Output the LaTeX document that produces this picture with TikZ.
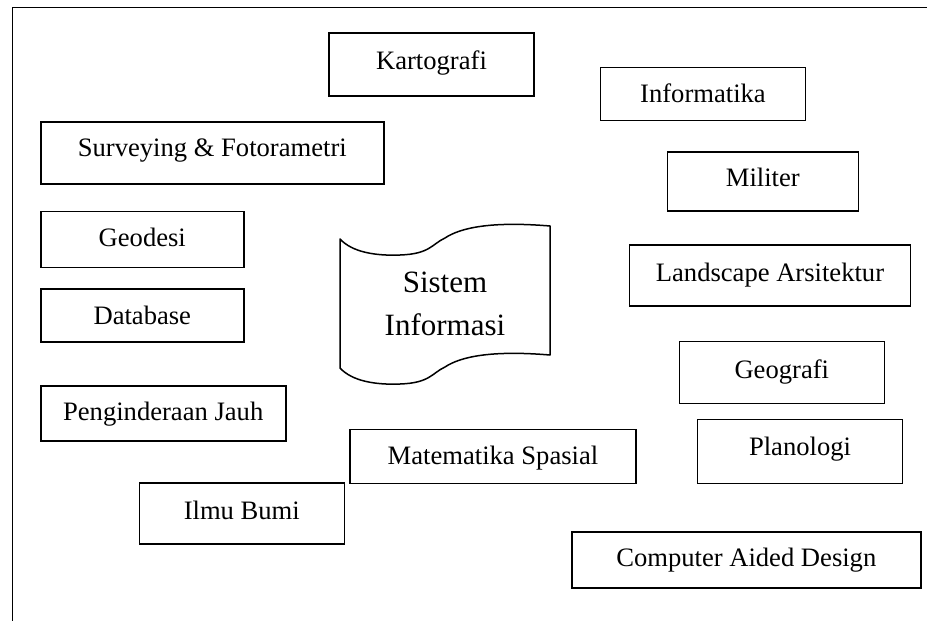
\documentclass[tikz,border=0pt]{standalone}
\usepackage{fontspec}
\setmainfont{Liberation Serif}
\tikzset{
  field/.style={draw=black, line width=0.8pt, rectangle, inner sep=0pt,
    font=\fontsize{13.3pt}{16pt}\selectfont, text height=8.8pt, text depth=1.5pt},
  tape/.style={draw=black, line width=0.75pt, line join=round},
  tapetext/.style={font=\fontsize{15.5pt}{19pt}\selectfont, inner sep=0pt, anchor=base},
  frameline/.style={draw=black, line width=0.55pt}
}
\begin{document}
\begin{tikzpicture}[x=0.5pt, y=-0.5pt]
\useasboundingbox (0,0) rectangle (927,621);

% open frame: top and left edges
\coordinate (ftr) at (927,7.3);
\coordinate (ftl) at (12.7,7.3);
\coordinate (fbl) at (12.7,621);
\draw[frameline] (ftr) -- (ftl) -- (fbl);

% central "Sistem Informasi" punched-tape shape
\draw[tape] (340,239)
  .. controls (352,252) and (375,256) .. (400,255)
  .. controls (430,254) and (432,244) .. (445,238)
  .. controls (460,228) and (490,221) .. (550,226)
  -- (550,355)
  .. controls (490,350) and (460,357) .. (445,367)
  .. controls (432,373) and (430,383) .. (400,384)
  .. controls (375,385) and (352,381) .. (340,368)
  -- cycle;
\node[tapetext] (sistem) at (445,292) {Sistem};
\node[tapetext] (informasi) at (445,335) {Informasi};

% surrounding fields
\node[field, minimum width=102.5pt, minimum height=31.5pt, text depth=4pt] (kart) at (431.5,64.5) {Kartografi};
\node[field, minimum width=102.5pt, minimum height=26.5pt, text depth=0pt] (info) at (703,94) {Informatika};
\node[field, minimum width=171.5pt, minimum height=31pt, text depth=5pt] (surv) at (212.3,153) {Surveying \& Fotorametri};
\node[field, minimum width=95.5pt, minimum height=29.5pt, text depth=3.3pt] (mil) at (762.8,181.3) {Militer};
\node[field, minimum width=101.5pt, minimum height=28pt, text depth=1.3pt] (geod) at (142.3,239.3) {Geodesi};
\node[field, minimum width=101.5pt, minimum height=26.5pt, text depth=0pt] (datab) at (142.3,315.3) {Database};
\node[field, minimum width=140.5pt, minimum height=30.5pt, text depth=3pt] (land) at (770,275.5) {Landscape Arsitektur};
\node[field, minimum width=102.5pt, minimum height=31pt, text depth=2.5pt] (geog) at (781.8,372.5) {Geografi};
\node[field, minimum width=122.5pt, minimum height=27.5pt, text depth=1.2pt] (peng) at (163.2,413.2) {Penginderaan Jauh};
\node[field, minimum width=143pt, minimum height=27pt, text depth=0.5pt] (mat) at (493,456.3) {Matematika Spasial};
\node[field, minimum width=102.5pt, minimum height=32pt, text depth=5pt] (plan) at (800,451.3) {Planologi};
\node[field, minimum width=102.5pt, minimum height=30.5pt, text depth=3.2pt] (ilmu) at (241.8,513.7) {Ilmu Bumi};
\node[field, minimum width=174.5pt, minimum height=28pt, text depth=1.7pt] (cad) at (746.3,559.7) {Computer Aided Design};
\end{tikzpicture}
\end{document}
